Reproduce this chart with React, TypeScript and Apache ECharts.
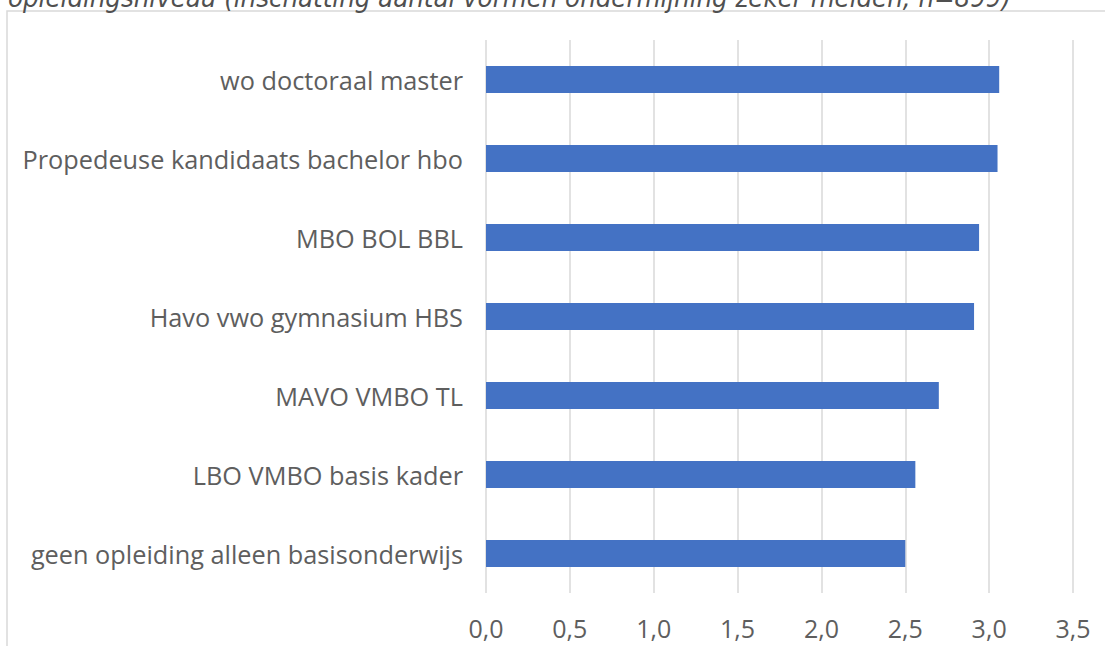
import React, { useEffect, useRef } from "react";
import * as echarts from "echarts";

const categories = [
  "geen opleiding alleen basisonderwijs",
  "LBO VMBO basis kader",
  "MAVO VMBO TL",
  "Havo vwo gymnasium HBS",
  "MBO BOL BBL",
  "Propedeuse kandidaats bachelor hbo",
  "wo doctoraal master",
];
const values = [2.5, 2.56, 2.7, 2.91, 2.94, 3.05, 3.06];
const titleText =
  "opleidingsniveau (inschatting aantal vormen ondermijning zeker melden, n=899)";

export default function App() {
  const ref = useRef<HTMLDivElement>(null);
  useEffect(() => {
    if (!ref.current) return;
    const chart = echarts.init(ref.current, null, { renderer: "svg" });
    const labelFont = "'Open Sans', sans-serif";
    chart.setOption({
      animation: false,
      graphic: [
        {
          type: "rect",
          shape: { x: 7, y: 11, width: 1200, height: 700 },
          style: { fill: "none", stroke: "#d9d9d9", lineWidth: 1.5 },
          silent: true,
        },
        {
          type: "text",
          x: 8,
          y: -16,
          style: {
            text: titleText,
            font: "italic 27.3px 'Liberation Sans Narrow', 'DejaVu Sans Condensed', sans-serif",
            fill: "#505050",
          },
        },
      ],
      grid: { left: 486, right: 32, top: 40, bottom: 53 },
      xAxis: {
        type: "value",
        min: 0,
        max: 3.5,
        interval: 0.5,
        axisLine: { show: false },
        axisTick: { show: false },
        splitLine: { lineStyle: { color: "#d9d9d9", width: 1.5 } },
        axisLabel: {
          color: "#5e5e5e",
          fontSize: 25,
          fontFamily: labelFont,
          margin: 22,
          formatter: (v: number) => v.toFixed(1).replace(".", ","),
        },
      },
      yAxis: {
        type: "category",
        data: categories,
        axisLine: { show: false },
        axisTick: { show: false },
        axisLabel: {
          color: "#5e5e5e",
          fontSize: 25.3,
          fontFamily: labelFont,
          margin: 23,
        },
      },
      series: [
        {
          type: "bar",
          data: values,
          barWidth: 27,
          itemStyle: { color: "#4472c4" },
        },
      ],
    });
    return () => chart.dispose();
  }, []);
  return (
    <div
      ref={ref}
      style={{ position: "fixed", left: 0, top: 0, width: 1105, height: 646, background: "#fff" }}
    />
  );
}
